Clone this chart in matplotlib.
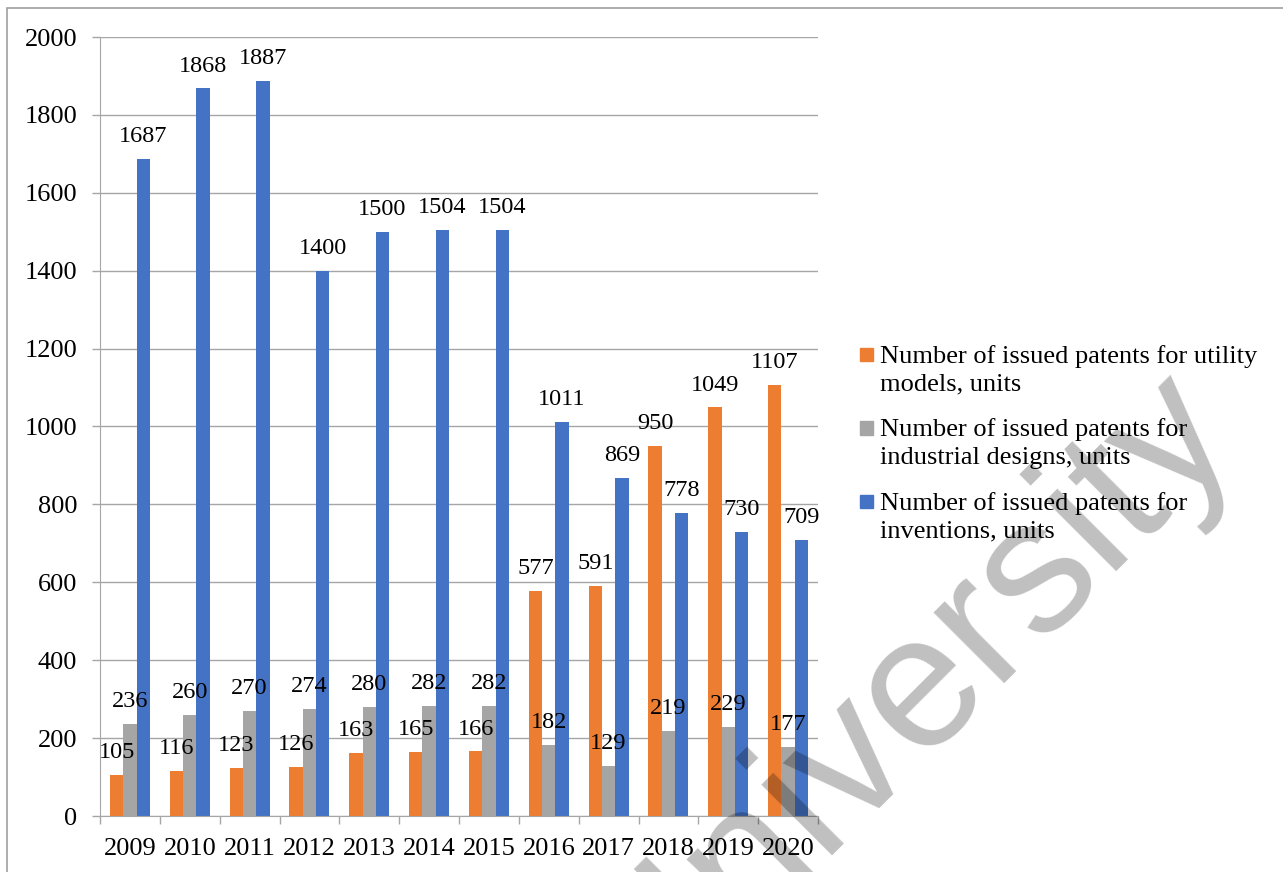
import numpy as np
import matplotlib
matplotlib.use("Agg")
from matplotlib import pyplot as plt
from matplotlib.patches import Rectangle
from matplotlib.legend_handler import HandlerPatch

years = ['2009', '2010', '2011', '2012', '2013', '2014', '2015',
         '2016', '2017', '2018', '2019', '2020']
utility = [105, 116, 123, 126, 163, 165, 166, 577, 591, 950, 1049, 1107]
designs = [236, 260, 270, 274, 280, 282, 282, 182, 129, 219, 229, 177]
inventions = [1687, 1868, 1887, 1400, 1500, 1504, 1504, 1011, 869, 778, 730, 709]

labels = ['Number of issued patents for utility\nmodels, units',
          'Number of issued patents for\nindustrial designs, units',
          'Number of issued patents for\ninventions, units']
colors = ['#ED7D31', '#A5A5A5', '#4472C4']

plt.rcParams['font.family'] = ['Liberation Serif', 'DejaVu Serif']
GRID = '#a6a6a6'

W, H = 1283, 872
fig = plt.figure(figsize=(W / 100, H / 100), dpi=100)
ax = fig.add_axes([100 / W, 1 - 816 / H, (818 - 100) / W, (816 - 37) / H])

x = np.arange(len(years))
bw = 0.222
series = [utility, designs, inventions]
for i, (vals, col) in enumerate(zip(series, colors)):
    bars = ax.bar(x + (i - 1) * bw, vals, bw, color=col, zorder=2)
    ax.bar_label(bars, padding=8.5, fontsize=17.5)

ax.set_xlim(-0.5, len(years) - 0.5)
ax.set_ylim(0, 2000)
ax.set_yticks(range(0, 2001, 200))
ax.set_xticks(x)
ax.set_xticklabels(years)
ax.set_xticks(np.arange(-0.5, len(years), 1), minor=True)
ax.tick_params(axis='x', which='major', length=0, pad=16, labelsize=19)
ax.tick_params(axis='x', which='minor', length=6, color=GRID, width=1)
ax.tick_params(axis='y', length=6, color=GRID, width=1, pad=10.5, labelsize=19)
ax.yaxis.grid(True, color=GRID, lw=1)
ax.set_axisbelow(True)
for s in ['top', 'right']:
    ax.spines[s].set_visible(False)
for s in ['left', 'bottom']:
    ax.spines[s].set_color(GRID)


def square(legend, orig_handle, xdescent, ydescent, width, height, fontsize):
    # square sits beside the first line of a two-line label
    s = 0.5 * fontsize
    return Rectangle((-xdescent, -ydescent + height / 2 - s / 2 + 0.57 * fontsize), s, s)


handles = [Rectangle((0, 0), 1, 1, color=c) for c in colors]
leg = ax.legend(handles, labels, loc='upper left', bbox_to_anchor=(860 / W, 1 - 345 / H),
                bbox_transform=fig.transFigure, frameon=False, fontsize=19,
                handlelength=0.5, handletextpad=0.27, labelspacing=0.85, borderpad=0,
                borderaxespad=0, handler_map={Rectangle: HandlerPatch(patch_func=square)})
for t in leg.get_texts():
    t.set_linespacing(1.35)

# outer frame of the chart
fig.patches.append(Rectangle((7 / W, -0.1), 1.2, 1.1 - 8 / H, transform=fig.transFigure,
                             fill=False, edgecolor='#a0a0a0', lw=1.2))

# diagonal watermark
fig.text(648 / W, 1 - 1025 / H, 'University', fontsize=137, family='Liberation Sans',
         color='black', alpha=0.25, rotation=45, rotation_mode='anchor',
         ha='left', va='baseline', zorder=10)

fig.savefig('out.png', dpi=100)
